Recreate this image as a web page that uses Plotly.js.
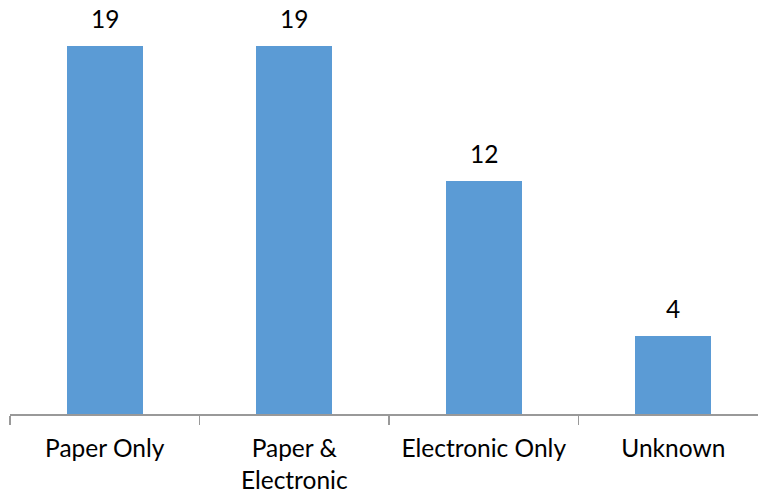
<!DOCTYPE html>
<html>
<head>
<meta charset="utf-8">
<script src="https://cdn.plot.ly/plotly-3.0.1.min.js"></script>
<style>html,body{margin:0;padding:0;background:#fff;overflow:hidden}</style>
</head>
<body>
<div id="chart" style="width:758px;height:493px"></div>
<script>
const categories = ["Paper Only", "Paper &<br>Electronic", "Electronic Only", "Unknown"];
const counts = [19, 19, 12, 4];

const trace = {
  type: "bar",
  x: categories,
  y: counts,
  width: 0.401,
  marker: { color: "#5b9bd5" },
  hoverinfo: "x+y"
};

const annotations = categories.map((c, i) => ({
  x: c, y: counts[i], xref: "x", yref: "y",
  text: String(counts[i]), showarrow: false,
  yanchor: "bottom", yshift: 11,
  font: { family: "Lato, 'Open Sans', sans-serif", size: 24.5, color: "#000" }
}));

const layout = {
  width: 758, height: 493,
  margin: { l: 10, r: 0, t: 7, b: 79 },
  paper_bgcolor: "#fff", plot_bgcolor: "#fff",
  showlegend: false,
  bargap: 0,
  xaxis: {
    type: "category",
    range: [-0.5, 3.447],
    showline: true, linecolor: "#999", linewidth: 1.5,
    ticks: "outside", tickson: "boundaries", ticklen: 9, tickcolor: "#999", tickwidth: 1.5,
    ticklabelstandoff: 12,
    tickfont: { family: "Lato, 'Open Sans', sans-serif", size: 24.5, color: "#000" },
    showgrid: false, zeroline: false,
    fixedrange: true
  },
  yaxis: {
    range: [0, 21],
    visible: false,
    showgrid: false, zeroline: false,
    fixedrange: true
  },
  annotations: annotations
};

Plotly.newPlot("chart", [trace], layout, { displayModeBar: false, staticPlot: true });
</script>
</body>
</html>
